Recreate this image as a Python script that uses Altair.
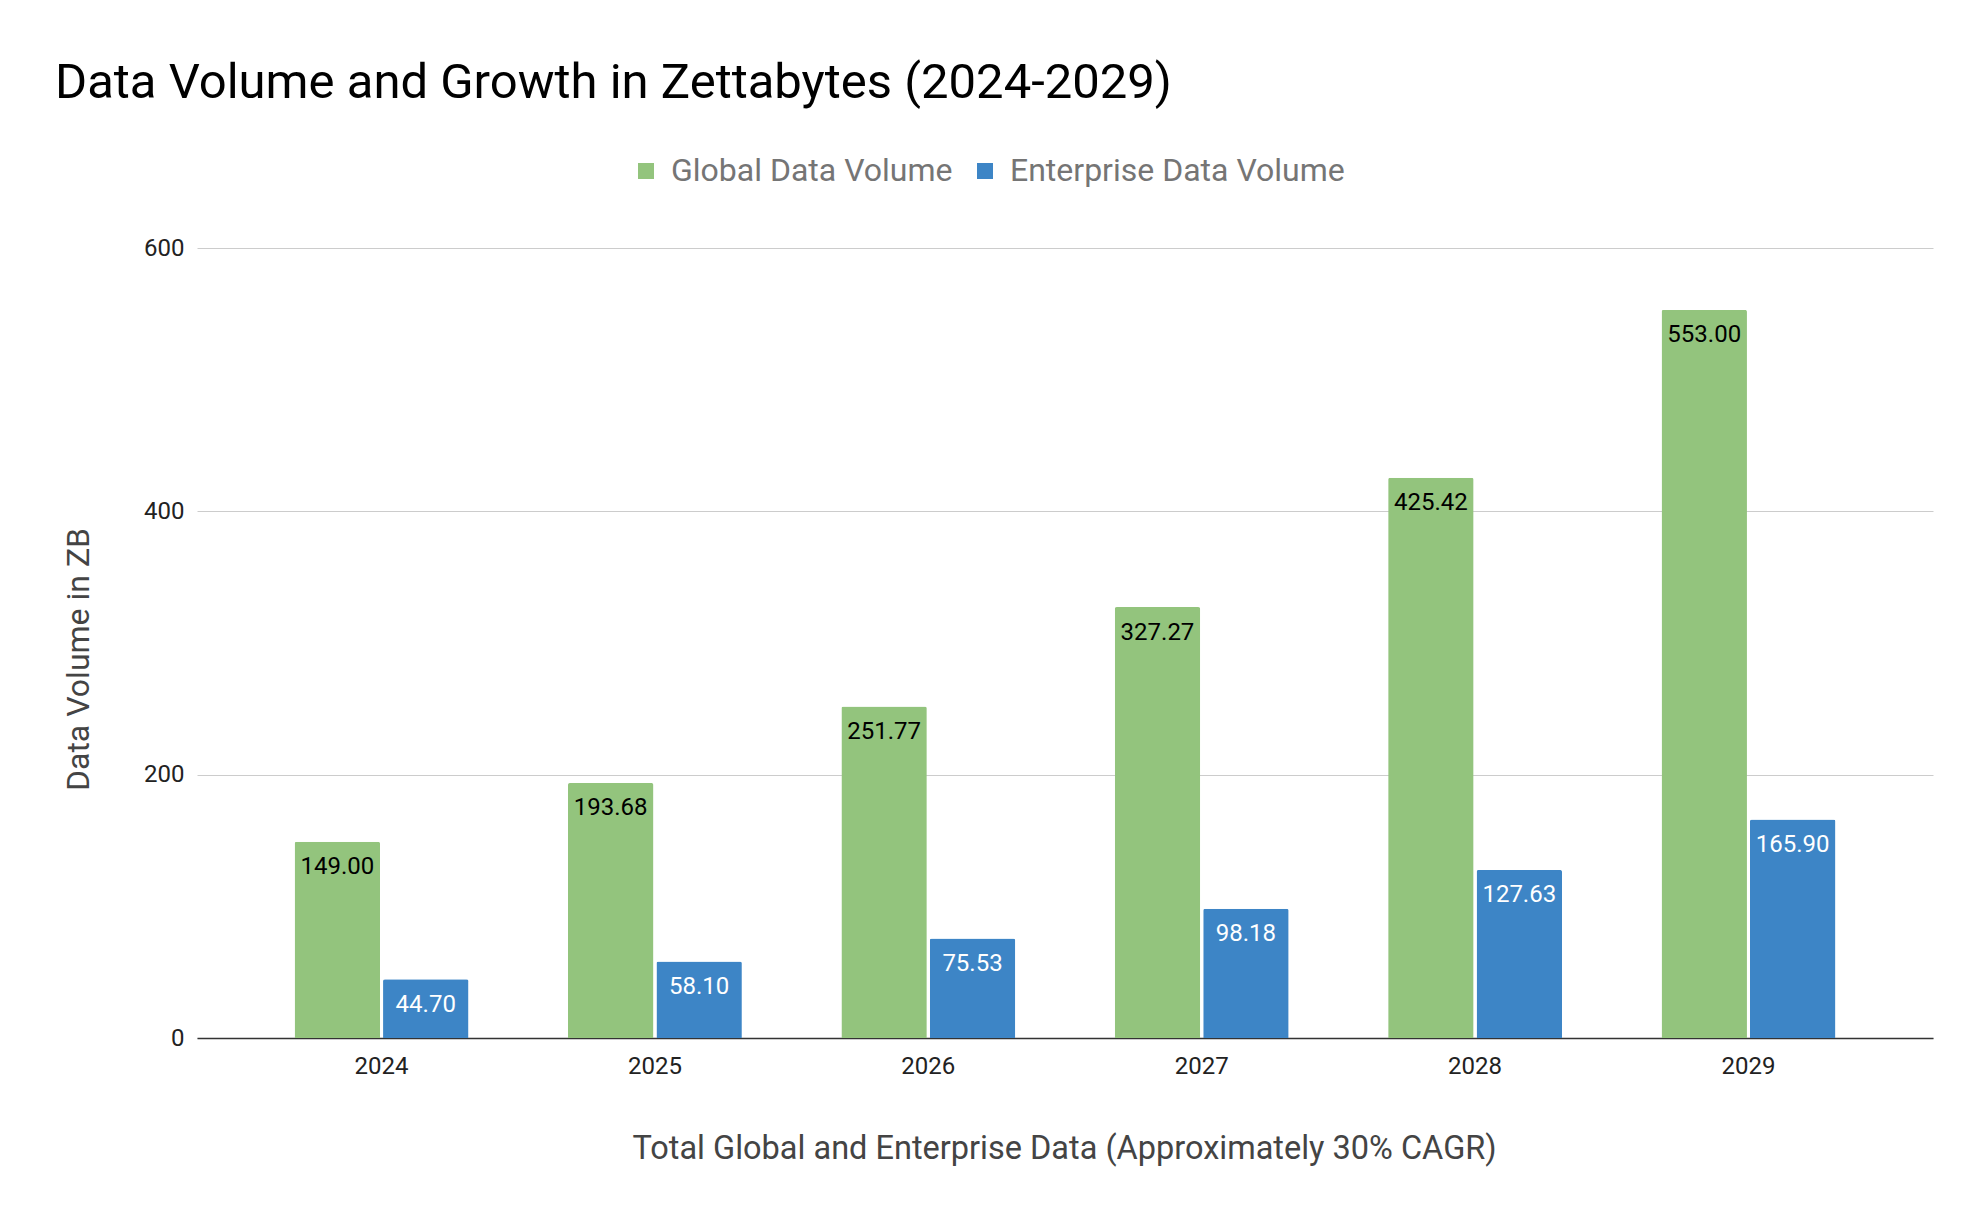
import altair as alt
import pandas as pd

years = ["2024", "2025", "2026", "2027", "2028", "2029"]
global_vals = [149.00, 193.68, 251.77, 327.27, 425.42, 553.00]
enterprise_vals = [44.70, 58.10, 75.53, 98.18, 127.63, 165.90]
series_names = ["Global Data Volume", "Enterprise Data Volume"]
series_colors = ["#93c47d", "#3d85c6"]
label_colors = ["#000000", "#ffffff"]
y_ticks = [0, 200, 400, 600]

rows = []
for i, yr in enumerate(years):
    for s, vals in zip(series_names, [global_vals, enterprise_vals]):
        rows.append({"Year": yr, "Series": s, "Value": vals[i], "Label": f"{vals[i]:.2f}"})
df = pd.DataFrame(rows)

FONT = "Roboto"

x_enc = alt.X(
    "Year:N",
    sort=years,
    scale=alt.Scale(paddingInner=0.364, paddingOuter=0.357),
    axis=alt.Axis(
        title="Total Global and Enterprise Data (Approximately 30% CAGR)",
        labelAngle=0,
        labelFont=FONT,
        labelFontSize=24,
        labelColor="#222222",
        labelBaseline="alphabetic",
        labelPadding=35,
        ticks=False,
        tickSize=0,
        domainColor="#333333",
        domainWidth=1.5,
        grid=False,
        titleFont=FONT,
        titleFontSize=32.5,
        titleFontWeight="normal",
        titleColor="#444444",
        titleX=867,
        titleY=120,
        titleAlign="center",
        titleBaseline="alphabetic",
    ),
)
xo_enc = alt.XOffset(
    "Series:N", sort=series_names, scale=alt.Scale(paddingInner=0.034, paddingOuter=0)
)
y_enc = alt.Y(
    "Value:Q",
    scale=alt.Scale(domain=[0, 600], nice=False),
    axis=alt.Axis(
        values=y_ticks,
        title="Data Volume in ZB",
        domain=False,
        ticks=False,
        tickSize=0,
        labelFont=FONT,
        labelFontSize=24,
        labelColor="#222222",
        labelPadding=13,
        gridColor="#cccccc",
        gridWidth=1,
        titleFont=FONT,
        titleFontSize=32,
        titleFontWeight="normal",
        titleColor="#444444",
        titleX=-109,
        titleY=411,
        titleAlign="center",
        titleBaseline="alphabetic",
    ),
)

bars = alt.Chart(df).mark_bar(cornerRadiusTopLeft=2, cornerRadiusTopRight=2).encode(
    x=x_enc,
    xOffset=xo_enc,
    y=y_enc,
    color=alt.Color(
        "Series:N",
        sort=series_names,
        scale=alt.Scale(domain=series_names, range=series_colors),
        title=None,
        legend=alt.Legend(
            orient="none",
            legendX=433,
            legendY=-93,
            direction="horizontal",
            symbolType="square",
            symbolSize=256,
            symbolStrokeWidth=0,
            symbolOpacity=1,
            labelFont=FONT,
            labelFontSize=32,
            labelColor="#757575",
            labelOffset=9,
            labelLimit=0,
            columnPadding=16,
            padding=0,
        ),
    ),
)

labels = alt.Chart(df).mark_text(
    font=FONT, fontSize=24, baseline="alphabetic", align="center", dy=32.5
).encode(
    x=alt.X("Year:N", sort=years),
    xOffset=alt.XOffset("Series:N", sort=series_names),
    y=alt.Y("Value:Q"),
    text="Label:N",
    color=alt.Color(
        "Series:N",
        scale=alt.Scale(domain=series_names, range=label_colors),
        legend=None,
    ),
)

chart = (
    alt.layer(bars, labels)
    .resolve_scale(color="independent")
    .properties(
        width=1736,
        height=790,
        autosize=alt.AutoSizeParams(type="none"),
        padding={"left": 189, "top": 240, "right": 47, "bottom": 168},
        title=alt.TitleParams(
            text="Data Volume and Growth in Zettabytes (2024-2029)",
            anchor="start",
            frame="group",
            dx=-142,
            fontSize=49,
            font=FONT,
            fontWeight="normal",
            color="#000000",
            baseline="alphabetic",
            offset=8,
        ),
    )
    .configure(font=FONT)
    .configure_view(stroke=None, strokeWidth=0)
    .configure_axisX(grid=False)
)

chart.save("out.html", embed_options={"renderer": "svg", "actions": False})
